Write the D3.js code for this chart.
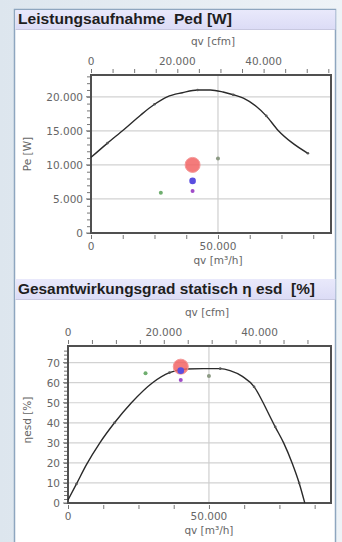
<!DOCTYPE html>
<html><head><meta charset="utf-8">
<script src="https://cdn.jsdelivr.net/npm/d3@7"></script>
<style>
html,body{margin:0;padding:0;background:#e6edf4;}
svg{display:block;}
</style></head>
<body>
<svg id="c" width="342" height="542"></svg>
<script>
// ---- data ----
const title1 = "Leistungsaufnahme  Ped [W]";
const title2 = "Gesamtwirkungsgrad statisch η esd  [%]";
const xLabelBottom = "qv [m³/h]";
const xLabelTop = "qv [cfm]";
const yLabel1 = "Pe [W]";
const yLabel2 = "ηesd [%]";

// power curve (qv m³/h, Pe W)
const curve1Q = [0, 6500, 13000, 19500, 25000, 30000, 36000, 42000, 47000, 52000, 56000, 60000, 65000, 69000, 73600, 79000, 85400];
const curve1P = [11100, 13200, 15200, 17300, 18900, 20000, 20600, 21000, 21000, 20700, 20300, 19800, 18600, 17200, 15100, 13300, 11700];

// efficiency curve (qv m³/h, eta %)
const curve2Q = [0, 3000, 6500, 11300, 16500, 22500, 30000, 36000, 42000, 48000, 54000, 57500, 62000, 66000, 68500, 71000, 73500, 76500, 79500, 82000, 84000];
const curve2E = [1.5, 9.5, 19, 30, 40, 50, 60, 65, 66.8, 67, 67, 66, 63, 58, 52, 45, 38, 30, 20, 10, 0];

// operating points
const ptQ = [27500, 50000, 40000, 40000, 40000];
const ptP = [5900, 10950, 10000, 7650, 6150];
const ptE = [64.7, 63.3, 68, 66, 61.3];
const ptColor = ["#6fae6f", "#8c9a84", "#f26464", "#5a4ee0", "#a04cc8"];
const ptR = [2, 2, 7.5, 3.3, 2];

const yTicks1 = [0, 5000, 10000, 15000, 20000];
const yTicks2 = [0, 10, 20, 30, 40, 50, 60, 70];
const xTicksBottom = [0, 50000];
const xTicksTop = [0, 20000, 40000];

const CFM = 1.699; // m³/h per cfm

const svg = d3.select("#c");
const fmt = d => d3.format(",")(d).replace(/,/g, ".");

// background + panel
const defs = svg.append("defs");
const bg = defs.append("linearGradient").attr("id","bg").attr("x1",0).attr("x2",1).attr("y1",0).attr("y2",0);
bg.append("stop").attr("offset",0).attr("stop-color","#dde6ee");
bg.append("stop").attr("offset",1).attr("stop-color","#eef3f7");
svg.append("rect").attr("width",342).attr("height",542).attr("fill","url(#bg)");
svg.append("rect").attr("x",14.5).attr("y",9.5).attr("width",321).attr("height",540)
  .attr("fill","#ffffff").attr("stroke","#8ea6bf").attr("stroke-width",1.5);

const tg = defs.append("linearGradient").attr("id","tb").attr("x1",0).attr("x2",0).attr("y1",0).attr("y2",1);
tg.append("stop").attr("offset",0).attr("stop-color","#e9e9fb");
tg.append("stop").attr("offset",1).attr("stop-color","#dcdcf6");

function titleBar(y, h, text, w) {
  svg.append("rect").attr("x",15.5).attr("y",y).attr("width",320).attr("height",h).attr("fill","url(#tb)");
  svg.append("line").attr("x1",15.5).attr("x2",335.5).attr("y1",y+h+0.5).attr("y2",y+h+0.5).attr("stroke","#c8c8e0");
  svg.append("text").attr("x",18).attr("y",y+h-5).text(text)
    .style("white-space","pre")
    .attr("font-family","Liberation Sans, Arial, sans-serif").attr("font-weight","bold")
    .attr("font-size",15).attr("fill","#1e1e1e")
    .attr("textLength",w).attr("lengthAdjust","spacingAndGlyphs");
}

function chart(o) {
  const x = d3.scaleLinear().domain([0, o.xMax]).range([o.left, o.right]);
  const xc = d3.scaleLinear().domain([0, o.xMax / CFM]).range([o.left, o.right]);
  const y = d3.scaleLinear().domain([0, o.yMax]).range([o.bottom, o.top]);
  const g = svg.append("g");
  const tickColor = "#777";
  const txt = "#666";
  const font = "DejaVu Sans, Verdana, sans-serif";

  // grid
  g.append("g").selectAll("line").data(o.yTicks.filter(d => d > 0)).join("line")
    .attr("x1", o.left).attr("x2", o.right).attr("y1", d => y(d)).attr("y2", d => y(d))
    .attr("stroke", "#d2d2d2").attr("stroke-width", 1.2);
  g.append("line").attr("x1", x(50000)).attr("x2", x(50000)).attr("y1", o.top).attr("y2", o.bottom)
    .attr("stroke", "#cfcfcf").attr("stroke-width", 1.2);

  // bottom axis
  const bAx = d3.axisBottom(x).tickValues(d3.range(0, o.xMax, 12500)).tickSize(4).tickFormat("");
  g.append("g").attr("transform", `translate(0,${o.bottom + 2})`).call(bAx)
    .call(s => s.select(".domain").remove())
    .call(s => s.selectAll("line").attr("stroke", tickColor));
  g.append("g").selectAll("text").data(xTicksBottom).join("text")
    .attr("x", d => x(d)).attr("y", o.bottom + 17).attr("text-anchor", "middle")
    .attr("font-family", font).attr("font-size", 10.5).attr("fill", txt).text(fmt);
  g.append("text").attr("x", x(50000)).attr("y", o.bottom + 31).attr("text-anchor", "middle")
    .attr("font-family", font).attr("font-size", 10.5).attr("fill", txt).text(xLabelBottom);

  // top axis (cfm)
  const tAx = d3.axisTop(xc).tickValues(d3.range(0, o.xMax / CFM, 5000)).tickSize(4).tickFormat("");
  g.append("g").attr("transform", `translate(0,${o.top - 2})`).call(tAx)
    .call(s => s.select(".domain").remove())
    .call(s => s.selectAll("line").attr("stroke", tickColor));
  g.append("g").selectAll("text").data(xTicksTop).join("text")
    .attr("x", d => xc(d)).attr("y", o.top - 10).attr("text-anchor", "middle")
    .attr("font-family", font).attr("font-size", 10.5).attr("fill", txt).text(fmt);
  g.append("text").attr("x", o.cfmLabelX).attr("y", o.top - 30).attr("text-anchor", "middle")
    .attr("font-family", font).attr("font-size", 10.5).attr("fill", txt).text(xLabelTop);

  // left axis
  const lAx = d3.axisLeft(y).tickValues(o.yMinor).tickSize(3).tickFormat("");
  g.append("g").attr("transform", `translate(${o.left - 1},0)`).call(lAx)
    .call(s => s.select(".domain").remove())
    .call(s => s.selectAll("line").attr("stroke", tickColor));
  g.append("g").selectAll("line").data(o.yTicks).join("line")
    .attr("x1", o.left - 5).attr("x2", o.left).attr("y1", d => y(d)).attr("y2", d => y(d))
    .attr("stroke", tickColor);
  g.append("g").selectAll("text").data(o.yTicks).join("text")
    .attr("x", o.left - 8).attr("y", d => y(d) + 4).attr("text-anchor", "end")
    .attr("font-family", font).attr("font-size", 10.5).attr("fill", txt).text(fmt);
  g.append("text").attr("transform", `translate(31,${o.yLabelY}) rotate(-90)`).attr("text-anchor", "middle")
    .attr("font-family", font).attr("font-size", 10.5).attr("fill", txt).text(o.yLabel);

  // frame
  g.append("rect").attr("x", o.left).attr("y", o.top).attr("width", o.right - o.left).attr("height", o.bottom - o.top)
    .attr("fill", "none").attr("stroke", "#505050").attr("stroke-width", 2);

  // curve
  const pts = o.cq.map((q, i) => [q, o.cv[i]]);
  g.append("path").datum(pts)
    .attr("d", d3.line().x(d => x(d[0])).y(d => y(d[1])).curve(d3.curveMonotoneX))
    .attr("fill", "none").attr("stroke", "#2a2a2a").attr("stroke-width", 1.4);
  g.append("g").selectAll("circle").data(pts.filter((d, i) => i % 3 === 1)).join("circle")
    .attr("cx", d => x(d[0])).attr("cy", d => y(d[1])).attr("r", 1.3).attr("fill", "#555");

  // operating points
  const op = ptQ.map((q, i) => ({ q, v: o.pv[i], c: ptColor[i], r: ptR[i] }));
  g.append("g").selectAll("circle").data(op).join("circle")
    .attr("cx", d => x(d.q)).attr("cy", d => y(d.v)).attr("r", d => d.r)
    .attr("fill", d => d.c).attr("fill-opacity", d => d.r > 5 ? 0.85 : 1)
    .attr("stroke", d => d.r > 5 ? "#f49a9a" : "none").attr("stroke-width", 1);
}

titleBar(10, 19, title1, 214);
chart({ left: 91, right: 331, top: 75, bottom: 233, xMax: 94500, yMax: 23200,
  yTicks: yTicks1, yMinor: d3.range(0, 23001, 1000), cq: curve1Q, cv: curve1P, pv: ptP,
  yLabel: yLabel1, yLabelY: 154, cfmLabelX: 213 });

titleBar(279, 20, title2, 297);
chart({ left: 68, right: 331, top: 346, bottom: 503, xMax: 93300, yMax: 78.3,
  yTicks: yTicks2, yMinor: d3.range(0, 78, 2), cq: curve2Q, cv: curve2E, pv: ptE,
  yLabel: yLabel2, yLabelY: 420, cfmLabelX: 207 });
</script>
</body></html>
